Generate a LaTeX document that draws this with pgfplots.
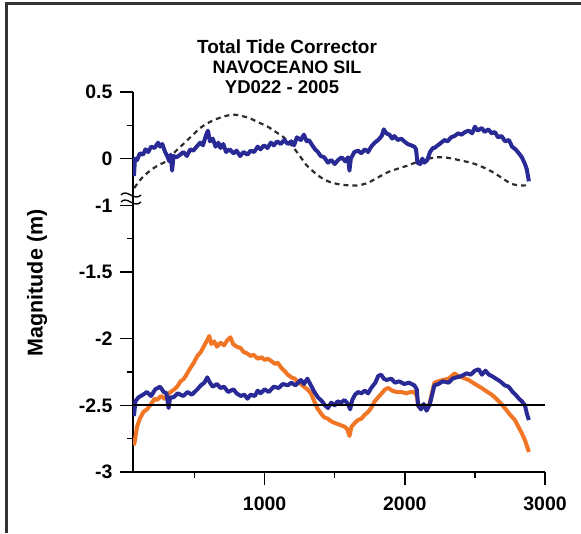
\documentclass[border=0pt]{standalone}
\usepackage{fontspec}
\setmainfont{Liberation Sans}
\usepackage{pgfplots}
\pgfplotsset{compat=1.18}

\definecolor{tideblue}{RGB}{42,42,150}
\definecolor{tideorange}{RGB}{240,118,38}
\definecolor{dashgray}{RGB}{45,45,45}

% lower panel is drawn on a broken axis: shown value -1 sits at -0.35
\pgfplotsset{lower/.style={y filter/.expression={y+0.65}}}

\begin{document}
\begin{tikzpicture}
\useasboundingbox (0pt,0pt) rectangle (581pt,533pt);

% frame (top and left edges only)
\draw[black!80, line width=3pt] (6pt,0pt) -- (6pt,529pt) -- (581pt,529pt);

% title
\node[anchor=base, font=\fontsize{19}{19}\selectfont\bfseries] at (287pt,479pt) {Total Tide Corrector};
\node[anchor=base, font=\fontsize{18}{18}\selectfont\bfseries] at (287pt,459pt) {NAVOCEANO SIL};
\node[anchor=base, font=\fontsize{18.5}{18.5}\selectfont\bfseries] at (282pt,439pt) {YD022 - 2005};
\node[rotate=90, font=\fontsize{21.5}{21.5}\selectfont\bfseries] at (37pt,250pt) {Magnitude (m)};

\begin{axis}[
  at={(133pt,61pt)}, anchor=south west,
  scale only axis, width=412pt, height=380pt,
  xmin=61, xmax=3000, ymin=-2.35, ymax=0.5,
  axis lines=left, axis line style={-, line width=1.7pt},
  xtick={1000,2000,3000}, xticklabels={1000,2000,3000},
  minor xtick={500,1500,2500},
  ytick={0.5,0,-0.35,-0.85,-1.35,-1.85,-2.35},
  yticklabels={0.5,0,-1,-1.5,-2,-2.5,-3},
  minor ytick={0.25,-0.6,-1.6,-2.1},
  tick align=outside, major tick length=13pt, minor tick length=6pt,
  tick style={black, line width=1.4pt},
  ticklabel style={font=\fontsize{19.5}{19.5}\selectfont\bfseries},
  xticklabel style={yshift=-8pt},
  yticklabel style={xshift=-4pt},
  /pgf/number format/assume math mode=true,
]

% upper dashed curve
\addplot[dashgray, line width=2.2pt, dash pattern=on 5pt off 4pt, smooth] coordinates {
(70,-0.22) (120,-0.15) (183,-0.09) (240,-0.05) (305,-0.015) (360,0.05) (420,0.11)
(480,0.17) (541,0.23) (600,0.27) (663,0.30) (720,0.32) (778,0.33) (840,0.32)
(900,0.30) (960,0.27) (1022,0.24) (1080,0.20) (1136,0.16) (1200,0.09) (1258,0.01)
(1300,-0.05) (1351,-0.10) (1400,-0.14) (1452,-0.17) (1520,-0.19) (1595,-0.20)
(1670,-0.20) (1738,-0.18) (1810,-0.14) (1882,-0.10) (1950,-0.075) (2025,-0.05)
(2100,-0.02) (2168,0.00) (2230,0.01) (2283,0.01) (2340,0.00) (2405,-0.015)
(2470,-0.03) (2527,-0.05) (2590,-0.08) (2642,-0.11) (2700,-0.15) (2763,-0.19)
(2820,-0.20) (2871,-0.20)
};

% upper blue trace
\addplot[tideblue, line width=4pt, line join=round] coordinates {
(68,-0.13) (75,0.00) (90,-0.01) (110,0.04) (133,0.03) (150,0.07) (170,0.05)
(190,0.09) (215,0.08) (240,0.12) (255,0.09) (270,0.11) (290,0.05) (305,0.02)
(320,-0.02) (330,0.03) (340,-0.09) (350,0.02) (370,0.01) (398,0.03) (420,0.05)
(445,0.02) (470,0.07) (491,0.06) (515,0.09) (540,0.12) (560,0.10) (580,0.17)
(595,0.21) (610,0.13) (630,0.15) (650,0.09) (670,0.12) (685,0.08) (705,0.11)
(725,0.05) (750,0.07) (778,0.04) (800,0.06) (825,0.02) (850,0.05) (878,0.03)
(900,0.06) (925,0.05) (950,0.09) (971,0.07) (995,0.10) (1020,0.08) (1045,0.12)
(1065,0.10) (1090,0.13) (1115,0.11) (1140,0.14) (1165,0.11) (1190,0.13)
(1210,0.10) (1230,0.16) (1258,0.14) (1280,0.18) (1300,0.13) (1315,0.14)
(1340,0.10) (1360,0.07) (1380,0.05) (1400,0.02) (1425,0.01) (1452,-0.03)
(1475,-0.01) (1500,-0.04) (1524,-0.01) (1550,0.01) (1575,-0.02) (1595,0.01)
(1605,-0.09) (1615,0.00) (1640,0.05) (1667,0.06) (1690,0.04) (1715,0.07)
(1738,0.05) (1760,0.09) (1785,0.12) (1810,0.14) (1835,0.17) (1850,0.22)
(1867,0.19) (1890,0.18) (1910,0.15) (1925,0.17) (1950,0.14) (1975,0.15)
(1996,0.13) (2020,0.11) (2045,0.10) (2068,0.09) (2080,0.07) (2090,-0.03)
(2110,-0.04) (2125,0.00) (2140,-0.03) (2160,-0.01) (2180,0.05) (2200,0.08)
(2211,0.08) (2235,0.10) (2260,0.12) (2283,0.14) (2305,0.13) (2330,0.16)
(2355,0.17) (2380,0.19) (2405,0.18) (2430,0.20) (2455,0.21) (2480,0.19)
(2500,0.24) (2520,0.21) (2548,0.23) (2570,0.20) (2595,0.22) (2620,0.19)
(2642,0.20) (2665,0.16) (2690,0.17) (2715,0.13) (2742,0.14) (2765,0.09)
(2790,0.07) (2814,0.04) (2835,0.01) (2857,-0.04) (2870,-0.08) (2885,-0.17)
};

% lower orange trace
\addplot[tideorange, lower, line width=4pt, line join=round] coordinates {
(68,-2.80) (75,-2.76) (90,-2.66) (110,-2.60) (135,-2.55) (161,-2.53) (190,-2.49)
(215,-2.45) (233,-2.46) (260,-2.43) (285,-2.45) (305,-2.42) (330,-2.40)
(355,-2.38) (376,-2.36) (400,-2.32) (425,-2.30) (448,-2.26) (470,-2.22)
(495,-2.18) (520,-2.13) (545,-2.10) (570,-2.05) (591,-2.01) (605,-1.98)
(620,-2.04) (640,-2.02) (660,-2.06) (685,-2.03) (710,-2.05) (735,-2.01)
(756,-1.99) (775,-2.04) (800,-2.06) (828,-2.07) (850,-2.10) (875,-2.11)
(900,-2.13) (921,-2.12) (950,-2.15) (980,-2.14) (1000,-2.16) (1022,-2.15)
(1050,-2.17) (1075,-2.19) (1093,-2.18) (1120,-2.22) (1140,-2.24) (1165,-2.27)
(1190,-2.29) (1215,-2.30) (1240,-2.33) (1258,-2.34) (1280,-2.36) (1305,-2.38)
(1330,-2.41) (1350,-2.46) (1375,-2.52) (1401,-2.56) (1425,-2.59) (1450,-2.60)
(1475,-2.62) (1495,-2.63) (1520,-2.64) (1545,-2.65) (1570,-2.66) (1590,-2.68)
(1605,-2.73) (1620,-2.66) (1645,-2.63) (1667,-2.61) (1690,-2.60) (1715,-2.57)
(1738,-2.55) (1760,-2.52) (1785,-2.47) (1810,-2.44) (1835,-2.41) (1860,-2.38)
(1882,-2.37) (1910,-2.39) (1940,-2.40) (1975,-2.40) (2010,-2.41) (2040,-2.40)
(2068,-2.40) (2085,-2.43) (2097,-2.51) (2120,-2.50) (2150,-2.52) (2176,-2.49)
(2195,-2.40) (2211,-2.33) (2240,-2.32) (2270,-2.31) (2312,-2.30) (2335,-2.28)
(2355,-2.26) (2380,-2.28) (2410,-2.29) (2455,-2.31) (2500,-2.34) (2548,-2.37)
(2590,-2.40) (2620,-2.42) (2642,-2.44) (2680,-2.48) (2713,-2.52) (2750,-2.57)
(2785,-2.61) (2810,-2.66) (2835,-2.71) (2860,-2.77) (2885,-2.85)
};

% lower blue trace
\addplot[tideblue, lower, line width=4pt, line join=round] coordinates {
(68,-2.58) (78,-2.47) (100,-2.44) (133,-2.42) (160,-2.40) (190,-2.43) (220,-2.38)
(254,-2.36) (280,-2.40) (300,-2.41) (315,-2.52) (326,-2.44) (350,-2.44)
(380,-2.41) (420,-2.43) (450,-2.40) (480,-2.42) (520,-2.38) (545,-2.35)
(570,-2.33) (591,-2.29) (610,-2.33) (630,-2.36) (660,-2.34) (685,-2.37)
(710,-2.36) (740,-2.40) (778,-2.38) (800,-2.41) (830,-2.43) (855,-2.42)
(878,-2.45) (900,-2.42) (930,-2.43) (950,-2.39) (971,-2.41) (1000,-2.38)
(1030,-2.40) (1065,-2.36) (1100,-2.37) (1130,-2.34) (1165,-2.35) (1190,-2.33)
(1220,-2.35) (1258,-2.31) (1280,-2.34) (1305,-2.30) (1330,-2.35) (1355,-2.40)
(1380,-2.44) (1410,-2.47) (1430,-2.50) (1452,-2.52) (1475,-2.48) (1500,-2.50)
(1520,-2.47) (1545,-2.48) (1570,-2.46) (1595,-2.49) (1610,-2.53) (1625,-2.46)
(1645,-2.42) (1667,-2.40) (1690,-2.41) (1715,-2.39) (1738,-2.41) (1760,-2.37)
(1790,-2.33) (1810,-2.28) (1831,-2.27) (1850,-2.30) (1870,-2.31) (1903,-2.30)
(1930,-2.33) (1960,-2.32) (1996,-2.34) (2030,-2.33) (2068,-2.35) (2085,-2.38)
(2095,-2.50) (2115,-2.53) (2135,-2.49) (2155,-2.54) (2176,-2.50) (2195,-2.42)
(2211,-2.35) (2240,-2.34) (2270,-2.32) (2312,-2.33) (2340,-2.30) (2370,-2.29)
(2405,-2.28) (2440,-2.26) (2470,-2.27) (2500,-2.24) (2527,-2.23) (2550,-2.27)
(2575,-2.24) (2600,-2.27) (2620,-2.28) (2650,-2.30) (2680,-2.32) (2713,-2.35)
(2740,-2.36) (2770,-2.40) (2790,-2.42) (2814,-2.45) (2835,-2.47) (2857,-2.50)
(2870,-2.56) (2885,-2.61)
};

% reference level at -2.5
\addplot[black, lower, line width=2pt] coordinates {(61,-2.5) (3000,-2.5)};
\end{axis}

% axis break marks
\draw[black, line width=1.3pt] (121pt,338pt) .. controls (127pt,345pt) and (134pt,331pt) .. (141pt,338pt);
\draw[black, line width=1.3pt] (121pt,331pt) .. controls (127pt,338pt) and (134pt,324pt) .. (141pt,331pt);
\end{tikzpicture}
\end{document}
